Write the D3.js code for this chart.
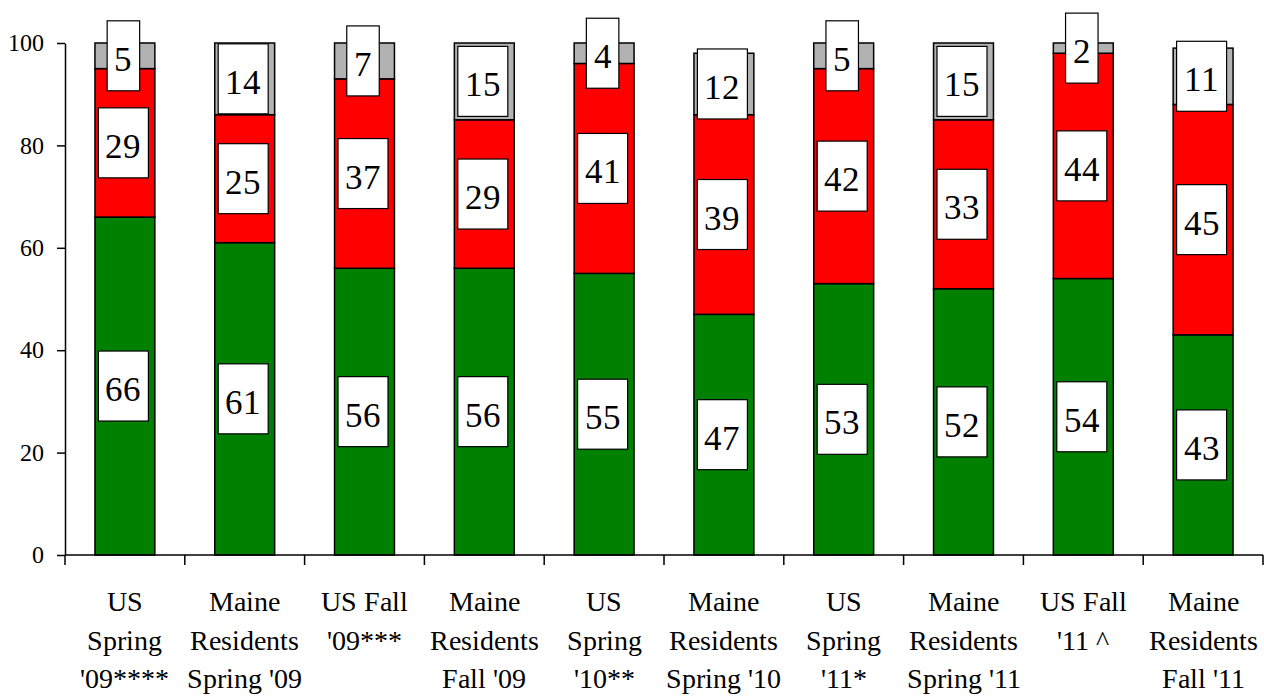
<!DOCTYPE html>
<html>
<head>
<meta charset="utf-8">
<script src="https://cdn.jsdelivr.net/npm/d3@7"></script>
<style>
  @font-face { font-family: "ChartSerif"; src: local("Liberation Serif"), local("LiberationSerif"), local("Liberation Serif Regular"); }
  svg text { font-family: "ChartSerif", "Liberation Serif", serif; }
</style>
</head>
<body style="margin:0;background:#fff">
<svg id="chart" width="1264" height="697"></svg>
<script>
// category labels, one entry per line as shown under each bar
var categoryLines = [
  ["US", "Spring", "'09****"],
  ["Maine", "Residents", "Spring '09"],
  ["US Fall", "'09***"],
  ["Maine", "Residents", "Fall '09"],
  ["US", "Spring", "'10**"],
  ["Maine", "Residents", "Spring '10"],
  ["US", "Spring", "'11*"],
  ["Maine", "Residents", "Spring '11"],
  ["US Fall", "'11 ^"],
  ["Maine", "Residents", "Fall '11"]
];
var categories = categoryLines.map(function(l) { return l.join(" "); });

// series values (bottom to top)
var greenValues = [66, 61, 56, 56, 55, 47, 53, 52, 54, 43];
var redValues   = [29, 25, 37, 29, 41, 39, 42, 33, 44, 45];
var greyValues  = [5, 14, 7, 15, 4, 12, 5, 15, 2, 11];

var yTicks = [0, 20, 40, 60, 80, 100];

var seriesColors = ["#008000", "#ff0000", "#b2b2b2"];

var svg = d3.select("#chart");

var x = d3.scaleBand()
    .domain(categories)
    .range([65, 1263])
    .paddingInner(0.5)
    .paddingOuter(0.25);

var y = d3.scaleLinear().domain([0, 100]).range([555, 43]);

// build stacked table
var table = categories.map(function(c, i) {
  return { cat: c, green: greenValues[i], red: redValues[i], grey: greyValues[i] };
});
var layers = d3.stack().keys(["green", "red", "grey"])(table);

var g = svg.append("g");

layers.forEach(function(layer, li) {
  g.selectAll(".seg" + li)
    .data(layer)
    .enter().append("rect")
    .attr("x", function(d) { return x(d.data.cat); })
    .attr("y", function(d) { return y(d[1]); })
    .attr("width", x.bandwidth())
    .attr("height", function(d) { return y(d[0]) - y(d[1]); })
    .attr("fill", seriesColors[li])
    .attr("stroke", "#000")
    .attr("stroke-width", 1.5);
});

// value labels in white boxes
var labelFont = 35;
var boxH = 70;
layers.forEach(function(layer) {
  layer.forEach(function(d) {
    var val = d[1] - d[0];
    var cx = x(d.data.cat) + x.bandwidth() / 2 - 1.5;
    var cy = y((d[0] + d[1]) / 2);
    var w = String(val).length * labelFont * 0.5 + 15;
    g.append("rect")
      .attr("x", cx - w / 2)
      .attr("y", cy - boxH / 2)
      .attr("width", w)
      .attr("height", boxH)
      .attr("fill", "#fff")
      .attr("stroke", "#000")
      .attr("stroke-width", 1.2);
    g.append("text")
      .attr("x", cx)
      .attr("y", cy + 15)
      .attr("text-anchor", "middle")
      .attr("font-size", labelFont)
      .text(val);
  });
});

// y axis
var yAxis = d3.axisLeft(y)
    .tickValues(yTicks)
    .tickSize(8)
    .tickSizeOuter(0)
    .tickPadding(13);
var ya = svg.append("g").attr("transform", "translate(65,0)").call(yAxis);
ya.attr("font-family", null).attr("font-size", 24);
ya.select(".domain").attr("stroke", "#000").attr("stroke-width", 1.5);
ya.selectAll(".tick line").attr("stroke", "#000").attr("stroke-width", 1.5);
ya.selectAll(".tick text").attr("fill", "#000");

// x axis line with separators between categories
svg.append("line")
  .attr("x1", 65).attr("x2", 1263)
  .attr("y1", 555).attr("y2", 555)
  .attr("stroke", "#000").attr("stroke-width", 1.5);
d3.range(categories.length + 1).forEach(function(i) {
  var bx = x.range()[0] + i * x.step();
  svg.append("line")
    .attr("x1", bx).attr("x2", bx)
    .attr("y1", 555).attr("y2", 565)
    .attr("stroke", "#000").attr("stroke-width", 1.5);
});

// category labels
categoryLines.forEach(function(lines, i) {
  var cx = x(categories[i]) + x.bandwidth() / 2;
  lines.forEach(function(line, k) {
    svg.append("text")
      .attr("x", cx)
      .attr("y", 611 + k * 38.5)
      .attr("text-anchor", "middle")
      .attr("font-size", 28)
      .text(line);
  });
});
</script>
</body>
</html>
